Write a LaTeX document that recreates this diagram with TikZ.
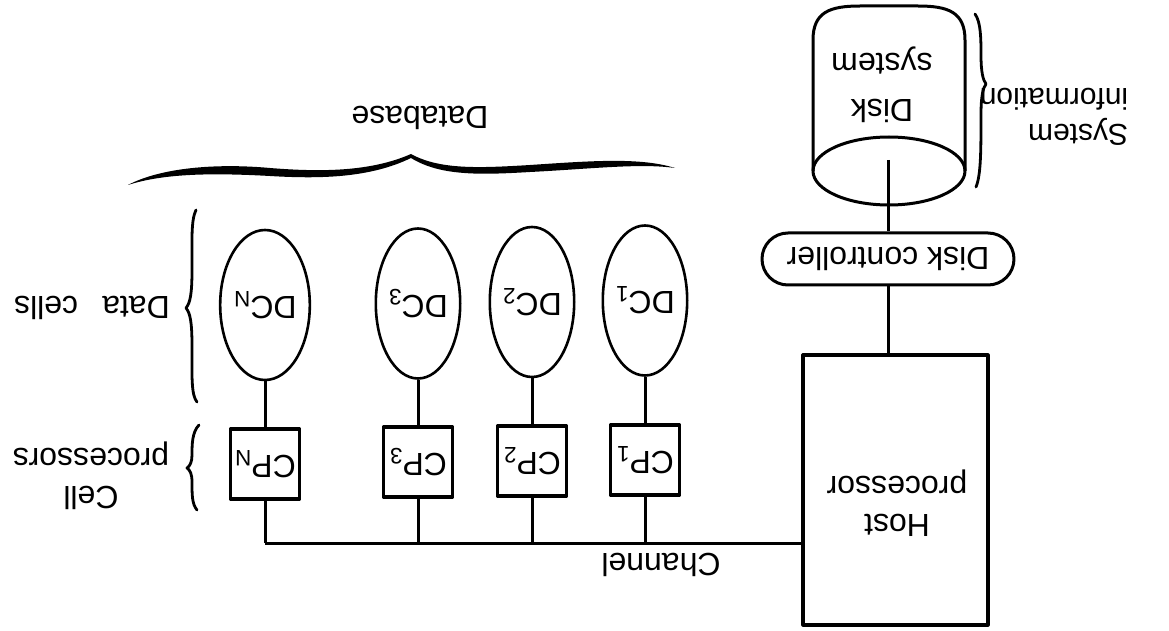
\documentclass[tikz,border=0pt]{standalone}
\usepackage{fontspec}
\setmainfont{Liberation Sans}
\usepackage{graphicx}
\usetikzlibrary{shapes.geometric}
\newcommand{\rt}[1]{\rotatebox[origin=c]{180}{#1}}
\begin{document}
\begin{tikzpicture}[x=0.5pt,y=-0.5pt, line join=round,
  every node/.style={font=\fontsize{16}{19}\selectfont, inner sep=0pt},
  cell/.style={draw, ellipse, line width=1.3pt, minimum width=38pt, minimum height=75pt},
  proc/.style={draw, rectangle, line width=1.7pt, minimum width=34.5pt, minimum height=35pt},
  wire/.style={line width=1.5pt},
  brace/.style={line width=1.4pt, line cap=round}]
\useasboundingbox (0,0) rectangle (1169,631);

% host and disk side
\node[draw, rectangle, line width=1.6pt, minimum width=92.5pt, minimum height=135pt] (host) at (895.5,490) {};
\node (hosttext) at (897,503) {\rt{\begin{tabular}{@{}c@{}}Host\\processor\end{tabular}}};
\node[draw, rectangle, rounded corners=13pt, line width=1.5pt, minimum width=126pt, minimum height=26pt] (ctrl) at (888,259) {\rt{Disk controller}};
\draw[line width=1.5pt] (813,171) -- (813,40) .. controls (813,12) and (830,6) .. (860,6) -- (918,6) .. controls (948,6) and (965,12) .. (965,40) -- (965,171);
\draw[line width=1.5pt] (889,171) ellipse [x radius=76, y radius=34];
\coordinate (diskc) at (888,160);
\node (disk) at (882,84) {\rt{\begin{tabular}{@{}c@{}}Disk\\[4pt]system\end{tabular}}};
\draw[wire] (diskc) -- (ctrl.north);
\draw[wire] (ctrl.south) -- (ctrl.south |- host.north);

% cells and processors
\node[cell] (dcN) at (265,305) {\rt{DC\textsubscript{N}}};
\node[cell] (dc3) at (418,303.5) {\rt{DC\textsubscript{3}}};
\node[cell] (dc2) at (532,302) {\rt{DC\textsubscript{2}}};
\node[cell] (dc1) at (645,300.5) {\rt{DC\textsubscript{1}}};
\node[proc] (cpN) at (265,464) {\rt{CP\textsubscript{N}}};
\node[proc] (cp3) at (418,462) {\rt{CP\textsubscript{3}}};
\node[proc] (cp2) at (532,461) {\rt{CP\textsubscript{2}}};
\node[proc] (cp1) at (645,460) {\rt{CP\textsubscript{1}}};
\foreach \i in {N,3,2,1}{\draw[wire] (dc\i) -- (cp\i);}
\coordinate (chan) at (265,543);
\draw[wire] (host.west |- chan) -- (chan);
\foreach \i in {N,3,2,1}{\draw[wire] (cp\i) -- (cp\i |- chan);}
\node (chlabel) at (661,565) {\rt{Channel}};

% braces and labels
\fill (128,185) .. controls (160,168) and (215,163) .. (270,168) .. controls (320,172) and (370,172) .. (411,154)
  .. controls (440,170) and (480,168) .. (530,165) .. controls (590,161) and (640,157) .. (675,168)
  .. controls (640,163) and (590,169) .. (530,172) .. controls (480,175) and (440,176) .. (411,158)
  .. controls (370,178) and (320,179) .. (270,176) .. controls (215,173) and (165,173) .. (128,185) -- cycle;
\node (dblabel) at (420,118) {\rt{Database}};

\draw[brace] (196,210) .. controls (191,220) and (192,240) .. (192,270) .. controls (192,295) and (190,303) .. (186,308)
  .. controls (190,313) and (192,321) .. (192,346) .. controls (192,375) and (191,395) .. (197,402);
\node (dclabel) at (92,308) {\rt{Data\hspace{0.75em}cells}};

\draw[brace] (199,425) .. controls (192,432) and (192,445) .. (192,455) .. controls (192,462) and (190,466) .. (187,468)
  .. controls (190,470) and (192,474) .. (192,482) .. controls (192,495) and (192,504) .. (197,510);
\node (cplabel) at (91,475) {\rt{\begin{tabular}{@{}c@{}}Cell\\processors\end{tabular}}};

\draw[brace] (975,14) .. controls (981,22) and (981,40) .. (981,55) .. controls (981,72) and (983,80) .. (986,84)
  .. controls (983,88) and (981,96) .. (981,115) .. controls (981,150) and (981,175) .. (976,187);
\node[font=\fontsize{15}{18}\selectfont] (silabel) at (1054,114) {\rt{\begin{tabular}{@{}l@{}}System\\information\end{tabular}}};
\end{tikzpicture}
\end{document}
